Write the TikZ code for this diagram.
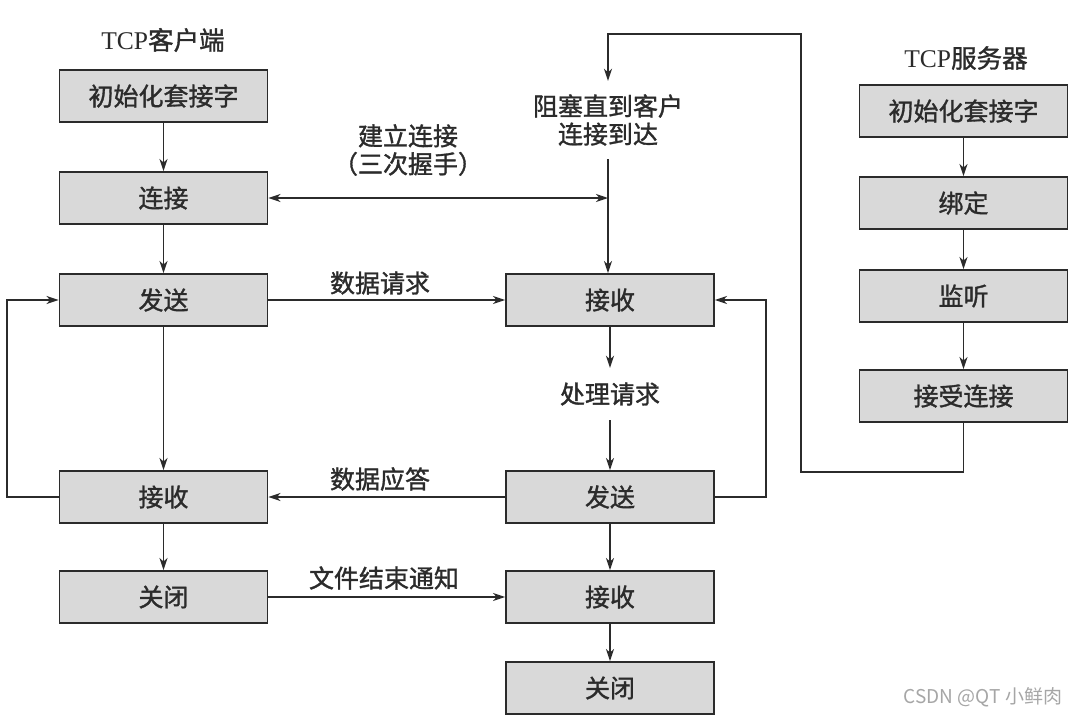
\documentclass[tikz,border=0pt]{standalone}
\usepackage{fontspec}
\setmainfont{Liberation Serif}
\newfontfamily\cjk[FakeBold=1.3]{Noto Sans CJK SC}
\newfontfamily\cjkwm{Noto Sans CJK SC}
\usetikzlibrary{arrows.meta}
\definecolor{boxfill}{HTML}{D9D9D9}
\definecolor{ink}{HTML}{2B2B2B}
\tikzset{
  boxnode/.style={draw=ink, fill=boxfill, line width=1.9pt, minimum width=208pt, minimum height=52pt, inner sep=0pt, font=\cjk\fontsize{25}{29}\selectfont, text=ink},
  plain/.style={inner sep=0pt, font=\cjk\fontsize{25}{28}\selectfont, text=ink, align=center},
  conn/.style={draw=ink, line width=1.5pt, -{Stealth[length=12pt,width=8pt,inset=3.5pt]}},
  biconn/.style={draw=ink, line width=1.5pt, {Stealth[length=12pt,width=8pt,inset=3.5pt]}-{Stealth[length=12pt,width=8pt,inset=3.5pt]}}
}
\begin{document}
\begin{tikzpicture}[x=1pt,y=-1pt]
\useasboundingbox (0,0) rectangle (1071,718);
\fill[white] (0,0) rectangle (1071,718);
% titles
\node[plain] (tc) at (163,40) {\rmfamily\fontsize{25.5}{28}\selectfont TCP{\cjk 客户端}};
\node[plain] (ts) at (966,58) {\rmfamily\fontsize{25.5}{28}\selectfont TCP{\cjk 服务器}};
% client column
\node[boxnode] (c1) at (163.5,96) {初始化套接字};
\node[boxnode] (c2) at (163.5,198) {连接};
\node[boxnode] (c3) at (163.5,300) {发送};
\node[boxnode] (c4) at (163.5,497) {接收};
\node[boxnode] (c5) at (163.5,597) {关闭};
% middle column
\node[plain, minimum height=78pt] (blk) at (608,120) {阻塞直到客户\\连接到达};
\node[boxnode] (m1) at (610,300) {接收};
\node[plain, minimum height=52pt] (proc) at (610,394) {处理请求};
\node[boxnode] (m2) at (610,497) {发送};
\node[boxnode] (m3) at (610,597) {接收};
\node[boxnode] (m4) at (610,688) {关闭};
% server column
\node[boxnode] (r1) at (963.5,111) {初始化套接字};
\node[boxnode] (r2) at (963.5,203) {绑定};
\node[boxnode] (r3) at (963.5,296) {监听};
\node[boxnode] (r4) at (963.5,396) {接受连接};
% labels
\node[plain] (l1) at (408,150) {建立连接\\（三次握手）};
\node[plain] (l2) at (380,283) {数据请求};
\node[plain] (l3) at (380,479) {数据应答};
\node[plain] (l4) at (384,578) {文件结束通知};
% watermark
\node[inner sep=0pt, font=\cjkwm\fontsize{19}{20}\selectfont, text=black!35] (wm) at (983,697) {CSDN @QT 小鲜肉};
% coordinates
\coordinate (j) at (608,198);
\coordinate (sb) at (963.5,472);
\coordinate (sl) at (801,472);
\coordinate (st) at (801,34);
\coordinate (mt) at (608,34);
\coordinate (lb) at (7,497);
\coordinate (lt) at (7,300);
\coordinate (rb) at (766,497);
\coordinate (rt) at (766,300);
% client arrows
\draw[conn] (c1) -- (c2);
\draw[conn] (c2) -- (c3);
\draw[conn] (c3) -- (c4);
\draw[conn] (c4) -- (c5);
\draw[conn] (c4.west) -- (lb) -- (lt) -- (c3.west);
% server arrows
\draw[conn] (r1) -- (r2);
\draw[conn] (r2) -- (r3);
\draw[conn] (r3) -- (r4);
\draw[conn] (r4.south) -- (sb) -- (sl) -- (st) -- (mt) -- (blk.north);
% middle
\draw[conn] (blk.south) -- (m1.north -| blk.south);
\draw[conn] (m1) -- (proc);
\draw[conn] (proc) -- (m2);
\draw[conn] (m2) -- (m3);
\draw[conn] (m3) -- (m4);
\draw[conn] (m2.east) -- (rb) -- (rt) -- (m1.east);
% cross arrows
\draw[biconn] (c2.east) -- (j);
\draw[conn] (c3.east) -- (m1.west);
\draw[conn] (m2.west) -- (c4.east);
\draw[conn] (c5.east) -- (m3.west);
\end{tikzpicture}
\end{document}
